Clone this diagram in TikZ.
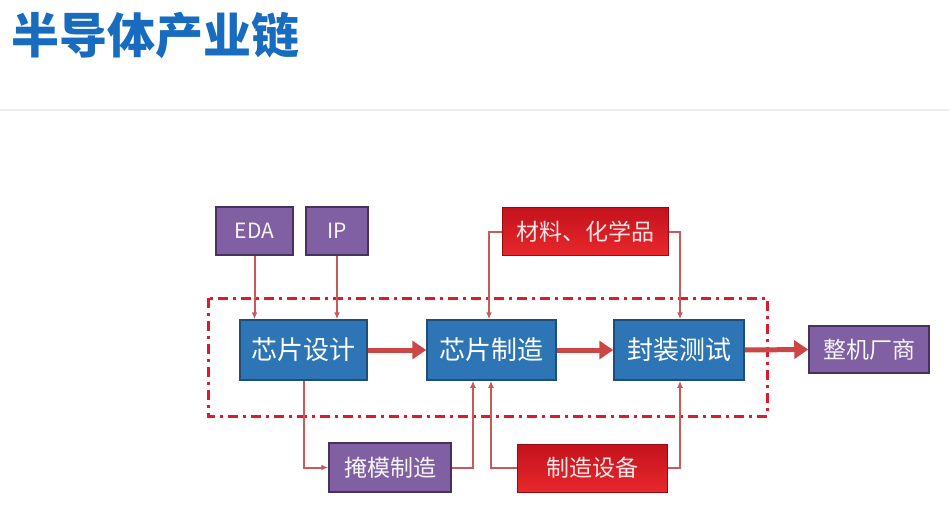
\documentclass[tikz,border=0pt]{standalone}
\usepackage{fontspec}
\setmainfont{Noto Sans CJK SC}
\newfontfamily\cjk{Noto Sans CJK SC}
\usetikzlibrary{arrows.meta}
\definecolor{titleblue}{RGB}{24,108,192}
\definecolor{boxblue}{RGB}{46,117,182}
\definecolor{boxblueedge}{RGB}{31,78,121}
\definecolor{boxpurple}{RGB}{128,96,162}
\definecolor{boxpurpleedge}{RGB}{70,50,95}
\definecolor{redtop}{RGB}{196,18,28}
\definecolor{redbot}{RGB}{232,40,44}
\definecolor{redbotedge}{RGB}{150,10,20}
\definecolor{linkred}{RGB}{200,90,90}
\definecolor{thickred}{RGB}{205,70,70}
\definecolor{dashred}{RGB}{225,25,45}
\tikzset{
  bluebox/.style={draw=boxblueedge, line width=1.5pt, fill=boxblue, text=white, minimum width=#1, minimum height=60pt, inner sep=0pt, font=\cjk\fontsize{26}{26}\selectfont},
  purplebox/.style={draw=boxpurpleedge, line width=1.5pt, fill=boxpurple, text=white!92!gray, minimum width=#1, minimum height=48pt, inner sep=0pt, font=\cjk\fontsize{23}{23}\selectfont},
  redbox/.style={draw=redbotedge, line width=1pt, top color=redtop, bottom color=redbot, text=white!90!red, minimum width=#1, minimum height=48pt, inner sep=0pt, font=\cjk\fontsize{23}{23}\selectfont},
  link/.style={draw=linkred, line width=2pt, -{Latex[length=7pt,width=6pt]}},
  thick link/.style={draw=thickred, line width=5pt, -{Triangle[length=14pt,width=18pt]}},
}
\begin{document}
\begin{tikzpicture}[x=1pt,y=-1pt]
\useasboundingbox (0,0) rectangle (949,521);
\fill[white] (0,0) rectangle (949,521);
% title
\node[anchor=west, text=titleblue, font=\cjk\bfseries\fontsize{48}{48}\selectfont, inner sep=0pt] (title) at (11,35) {半导体产业链};
\draw[gray!15, line width=1.5pt] (0,110) -- (949,110);
% dash-dot frame
\draw[dashred, line width=3pt, dash pattern=on 10pt off 5pt on 3pt off 5pt] (208,298) rectangle (767,416);
% nodes
\node[purplebox=77pt, font=\cjk\fontsize{21}{21}\selectfont] (eda) at (254.5,231) {EDA};
\node[purplebox=62pt, font=\cjk\fontsize{21}{21}\selectfont] (ip) at (337,231) {IP};
\node[redbox=166pt] (mat) at (585,231.5) {材料、化学品};
\node[bluebox=127pt] (design) at (303.5,350) {芯片设计};
\node[bluebox=129pt] (fab) at (491.5,350) {芯片制造};
\node[bluebox=130pt] (pack) at (679,350) {封装测试};
\node[purplebox=120pt, minimum height=47pt] (oem) at (869,349.5) {整机厂商};
\node[purplebox=122pt, minimum height=49pt] (mask) at (390,467.5) {掩模制造};
\node[redbox=150pt] (equip) at (592,468) {制造设备};
% thin links
\draw[link] (eda.south) -- (design.north -| eda.south);
\draw[link] (ip.south) -- (design.north -| ip.south);
\draw[link] (mat.west) -| ([xshift=-2.5pt]fab.north);
\draw[link] (mat.east) -| ([xshift=1pt]pack.north);
\draw[link] (design.south) |- (mask.west);
\draw[link] (mask.east) -| ([xshift=-18.5pt]fab.south);
\draw[link] (equip.west) -| ([xshift=-0.5pt]fab.south);
\draw[link] (equip.east) -| ([xshift=1pt]pack.south);
% thick links
\draw[thick link] (design.east) -- (fab.west);
\draw[thick link] (fab.east) -- (pack.west);
\draw[thick link] (pack.east) -- (oem.west);
\end{tikzpicture}
\end{document}
